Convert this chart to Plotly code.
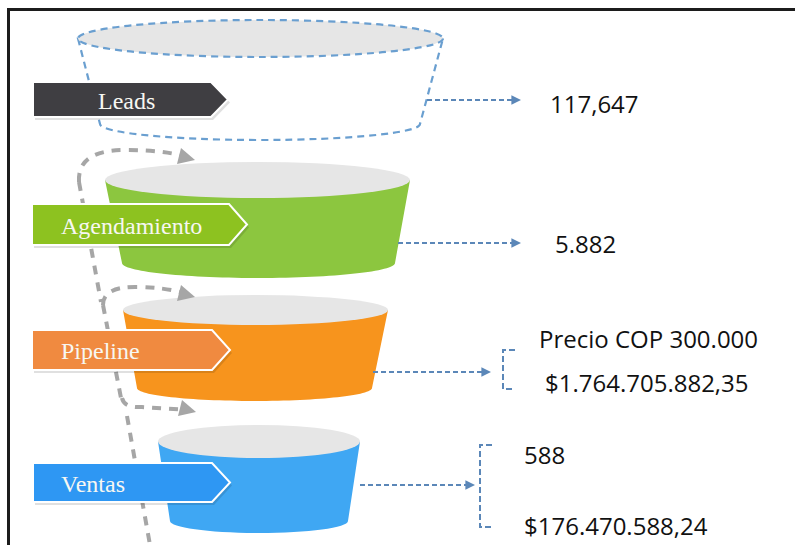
import plotly.graph_objects as go

# Funnel stages and the values shown next to each one
stages = ["Leads", "Agendamiento", "Pipeline", "Ventas"]
value_lines = [
    ["117,647"],
    ["5.882"],
    ["Precio COP 300.000", "$1.764.705.882,35"],
    ["588", "$176.470.588,24"],
]

# Styling
CUP_COLORS = [None, "#8cc63f", "#f7941d", "#3fa7f3"]
LABEL_COLORS = ["#3f3e42", "#8dc220", "#f08a40", "#2e97f3"]
RIM = "#e6e6e6"
LINK = "#5b87b8"
LEADS_LINE = "#6a9fd0"
GREY = "#a6a6a6"
W, H = 795, 545

# Geometry of cups: (cx, cy, half-width, half-height) for top opening and bottom
cup_top = [(260.5, 38.5, 182.5, 18.5), (257.5, 180, 152.5, 18), (255.5, 310, 132.5, 15), (259, 441.5, 101, 16.5)]
cup_bot = [(260, 124, 160, 16), (258.5, 263, 136.5, 15), (254.5, 388, 117.5, 13), (259, 521, 89, 12)]
# Label boxes: (x0, y0, y1, body end, tip), text x
label_box = [(33, 82, 117, 211, 228), (32, 204, 245, 229, 247), (32, 330, 370, 212, 230), (33, 463, 502, 212, 230)]
label_text_x = [96, 59, 59, 59]

K = 0.5523


def lower_arc(cx, cy, a, b):
    return (f"C {cx - a},{cy + K * b} {cx - K * a},{cy + b} {cx},{cy + b} "
            f"C {cx + K * a},{cy + b} {cx + a},{cy + K * b} {cx + a},{cy}")


fig = go.Figure()
shapes = []
annotations = []

# frame
shapes.append(dict(type="line", x0=7, x1=W, y0=9.5, y1=9.5, line=dict(color="#1c1c1c", width=3)))
shapes.append(dict(type="line", x0=8.5, x1=8.5, y0=9.5, y1=H, line=dict(color="#1c1c1c", width=3)))

# cups
for i in range(len(stages)):
    tcx, tcy, ta, tb = cup_top[i]
    bcx, bcy, ba, bb = cup_bot[i]
    body = (f"M {tcx - ta},{tcy} L {bcx - ba},{bcy} " + lower_arc(bcx, bcy, ba, bb)
            + f" L {tcx + ta},{tcy} Z")
    if CUP_COLORS[i] is None:
        shapes.append(dict(type="path", path=body, fillcolor="white",
                           line=dict(color=LEADS_LINE, width=2.2, dash="7px,5px")))
        shapes.append(dict(type="circle", x0=tcx - ta, x1=tcx + ta, y0=tcy - tb, y1=tcy + tb,
                           fillcolor=RIM, line=dict(color=LEADS_LINE, width=2.2, dash="7px,5px")))
    else:
        shapes.append(dict(type="path", path=body, fillcolor=CUP_COLORS[i], line=dict(width=0)))
        shapes.append(dict(type="circle", x0=tcx - ta, x1=tcx + ta, y0=tcy - tb, y1=tcy + tb,
                           fillcolor=RIM, line=dict(width=0)))

# grey recycling arrows
grey_paths = [
    "M 79,182 Q 77,150 125,150 Q 165,150 187,157",
    "M 79,182 L 101,302",
    "M 103,305 Q 103,287 135,287 Q 165,287 187,294",
    "M 103,305 L 121,398",
    "M 122,398 Q 124,408 142,407 L 188,410",
    "M 127,416 L 150,545",
]
for p in grey_paths:
    shapes.append(dict(type="path", path=p, line=dict(color=GREY, width=4, dash="9px,8px")))
for tip in [(195, 160), (195, 297), (196, 412)]:
    annotations.append(dict(x=tip[0], y=tip[1], ax=-8, ay=-2, text="", showarrow=True,
                            arrowhead=2, arrowsize=1.1, arrowwidth=3, arrowcolor=GREY))

# label boxes
for i, name in enumerate(stages):
    x0, y0, y1, xb, xt = label_box[i]
    ym = (y0 + y1) / 2
    pent = f"M {x0},{y0} L {xb},{y0} L {xt},{ym} L {xb},{y1} L {x0},{y1} Z"
    shadow = f"M {x0 + 2},{y0 + 3} L {xb + 2},{y0 + 3} L {xt + 2},{ym + 3} L {xb + 2},{y1 + 3} L {x0 + 2},{y1 + 3} Z"
    shapes.append(dict(type="path", path=shadow, fillcolor="rgba(0,0,0,0.12)", line=dict(width=0)))
    shapes.append(dict(type="path", path=pent, fillcolor=LABEL_COLORS[i], line=dict(color="white", width=2)))
    annotations.append(dict(x=label_text_x[i], y=ym + 1, text=name, showarrow=False, xanchor="left",
                            yanchor="middle", font=dict(family="Liberation Serif", size=24, color="#f7f7f2")))

# blue connectors
links = [(427, 516, 100), (398, 516, 243), (373, 486, 372), (360, 470, 485)]
for x0, x1, y in links:
    shapes.append(dict(type="line", x0=x0, x1=x1, y0=y, y1=y, line=dict(color=LINK, width=2, dash="5px,3px")))
    annotations.append(dict(x=x1 + 5, y=y, ax=-6, ay=0, text="", showarrow=True,
                            arrowhead=2, arrowsize=1.2, arrowwidth=1.6, arrowcolor=LINK))
# brackets
for bx, by0, by1 in [(503, 350, 389), (480, 445, 527)]:
    shapes.append(dict(type="path", path=f"M {bx + 12},{by0} L {bx},{by0} L {bx},{by1} L {bx + 12},{by1}",
                       line=dict(color=LINK, width=2, dash="6px,3px")))

# values
value_pos = [
    [(548, 103)],
    [(553, 243)],
    [(537, 338), (543, 382)],
    [(522, 454), (522, 525)],
]
for lines, pos in zip(value_lines, value_pos):
    for txt, (vx, vy) in zip(lines, pos):
        annotations.append(dict(x=vx, y=vy, text=txt, showarrow=False, xanchor="left", yanchor="middle",
                                font=dict(family="Open Sans", size=24, color="#111111")))

fig.update_layout(
    width=W, height=H,
    margin=dict(l=0, r=0, t=0, b=0),
    paper_bgcolor="white", plot_bgcolor="white",
    shapes=shapes, annotations=annotations,
    showlegend=False,
)
fig.update_xaxes(range=[0, W], visible=False, fixedrange=True)
fig.update_yaxes(range=[H, 0], visible=False, fixedrange=True)

# the page's default body margin would push the figure 8px down/right
fig.write_html("out.html", config={"displayModeBar": False},
               post_script="document.body.style.margin='0';document.body.style.overflow='hidden';")
